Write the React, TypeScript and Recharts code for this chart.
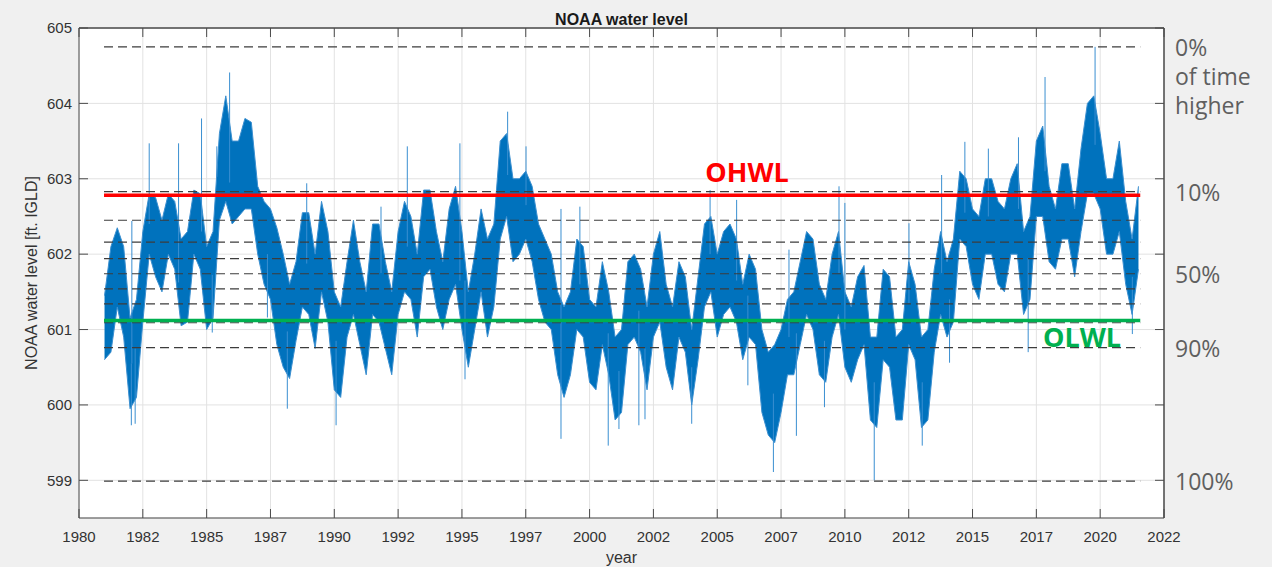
import {
    ComposedChart,
    Area,
    Line,
    XAxis,
    YAxis,
    CartesianGrid,
    ReferenceLine,
    ReferenceDot,
} from "recharts";

// quarter-year bins, first bin at 1981.00
const firstBin = 1981.0;
const binStep = 0.25;
const dataStart = 1980.98;
const dataEnd = 2021.57;

// lower envelope of the daily record per bin [ft IGLD]
const lows = [
    600.6, 600.7, 601.3, 600.9, // 1981
    599.95, 600.1, 601.1, 602.0, // 1982
    601.7, 601.5, 602.0, 601.8, // 1983
    601.05, 601.1, 602.0, 601.8, // 1984
    601.0, 601.15, 602.45, 602.7, // 1985
    602.4, 602.5, 602.6, 602.6, // 1986
    602.0, 601.6, 601.4, 600.8, // 1987
    600.5, 600.35, 600.85, 601.3, // 1988
    601.2, 600.75, 601.5, 601.1, // 1989
    600.2, 600.1, 600.9, 601.2, // 1990
    600.8, 600.4, 601.2, 601.1, // 1991
    600.75, 600.4, 601.2, 601.5, // 1992
    601.4, 600.9, 601.7, 601.8, // 1993
    601.3, 601.0, 601.4, 601.6, // 1994
    601.0, 600.5, 601.0, 601.5, // 1995
    600.9, 601.3, 602.2, 602.5, // 1996
    601.9, 602.0, 602.2, 601.9, // 1997
    601.4, 601.1, 601.0, 600.4, // 1998
    600.1, 600.4, 601.0, 600.9, // 1999
    600.3, 600.2, 600.8, 600.4, // 2000
    599.8, 599.9, 600.8, 600.9, // 2001
    600.7, 600.2, 600.9, 601.1, // 2002
    600.5, 600.2, 600.9, 600.7, // 2003
    600.0, 600.6, 601.3, 601.5, // 2004
    600.9, 601.2, 601.3, 601.1, // 2005
    600.6, 600.9, 600.8, 599.9, // 2006
    599.6, 599.5, 599.9, 600.4, // 2007
    600.4, 600.8, 601.2, 601.0, // 2008
    600.4, 600.3, 600.9, 601.2, // 2009
    600.5, 600.3, 600.6, 600.8, // 2010
    599.8, 599.7, 600.6, 600.5, // 2011
    599.8, 599.8, 600.8, 600.6, // 2012
    599.7, 599.8, 600.7, 601.2, // 2013
    600.9, 601.1, 602.2, 602.1, // 2014
    601.6, 601.4, 602.0, 602.0, // 2015
    601.6, 601.5, 602.0, 602.0, // 2016
    601.2, 601.4, 602.5, 602.5, // 2017
    601.9, 601.8, 602.2, 602.2, // 2018
    601.7, 602.3, 602.8, 602.8, // 2019
    602.6, 602.0, 602.0, 602.3, // 2020
    601.6, 601.2, 601.8, // 2021
];

// upper envelope per bin
const highs = [
    601.45, 602.1, 602.35, 602.1, // 1981
    601.15, 601.4, 602.3, 602.8, // 1982
    602.75, 602.45, 602.8, 602.7, // 1983
    602.2, 602.3, 602.85, 602.8, // 1984
    602.1, 602.3, 603.6, 604.1, // 1985
    603.5, 603.5, 603.8, 603.75, // 1986
    602.9, 602.7, 602.6, 602.35, // 1987
    602.0, 601.6, 601.9, 602.55, // 1988
    602.55, 602.0, 602.7, 602.3, // 1989
    601.5, 601.3, 601.9, 602.45, // 1990
    601.9, 601.5, 602.4, 602.4, // 1991
    601.9, 601.5, 602.3, 602.7, // 1992
    602.5, 602.0, 602.85, 602.85, // 1993
    602.3, 601.9, 602.6, 602.9, // 1994
    602.3, 601.5, 602.0, 602.6, // 1995
    602.2, 602.4, 603.5, 603.6, // 1996
    603.0, 603.0, 603.1, 602.9, // 1997
    602.4, 602.2, 602.0, 601.5, // 1998
    601.3, 601.5, 602.2, 602.1, // 1999
    601.4, 601.3, 601.9, 601.5, // 2000
    600.9, 601.0, 601.9, 602.0, // 2001
    601.8, 601.3, 602.0, 602.3, // 2002
    601.6, 601.3, 601.9, 601.7, // 2003
    601.0, 601.7, 602.4, 602.5, // 2004
    602.0, 602.3, 602.4, 602.2, // 2005
    601.6, 602.0, 601.8, 601.0, // 2006
    600.7, 600.8, 601.0, 601.4, // 2007
    601.5, 601.9, 602.3, 602.2, // 2008
    601.6, 601.4, 602.0, 602.3, // 2009
    601.5, 601.3, 601.7, 601.85, // 2010
    600.9, 600.9, 601.8, 601.7, // 2011
    600.9, 601.0, 601.9, 601.6, // 2012
    600.9, 601.0, 601.8, 602.3, // 2013
    601.9, 602.2, 603.1, 603.0, // 2014
    602.6, 602.5, 603.0, 603.0, // 2015
    602.7, 602.6, 603.0, 603.2, // 2016
    602.3, 602.5, 603.5, 603.7, // 2017
    602.9, 602.6, 603.2, 603.2, // 2018
    602.6, 603.4, 604.0, 604.1, // 2019
    603.6, 603.0, 603.0, 603.5, // 2020
    602.7, 602.2, 602.9, // 2021
];

// single-day extremes sticking out of the band: [year, level]
const spikes: [number, number][] = [
    [1982.07, 602.44], [1982.75, 603.47], [1983.9, 603.47], [1984.8, 603.8],
    [1985.4, 603.43], [1985.9, 604.41], [1988.92, 602.94], [1991.83, 602.63],
    [1992.86, 603.43], [1994.92, 603.47], [1996.79, 603.89], [1997.51, 603.43],
    [1998.88, 602.6], [1999.62, 602.63], [2004.72, 602.85], [2005.76, 602.72],
    [2007.81, 602.06], [2009.77, 602.9], [2010.0, 602.68], [2012.51, 602.41],
    [2013.79, 603.05], [2014.7, 603.49], [2015.62, 603.4], [2016.8, 603.55],
    [2017.84, 604.35], [2019.8, 604.75],
    [1982.05, 599.73], [1982.2, 599.75], [1985.22, 600.96], [1987.38, 601.16],
    [1988.16, 599.95], [1990.07, 599.73], [1995.12, 600.34], [1998.88, 599.55],
    [2000.73, 599.46], [2001.15, 599.68], [2001.93, 599.73], [2002.17, 599.81],
    [2004.0, 599.75], [2006.2, 600.26], [2007.2, 599.11], [2008.1, 599.59],
    [2009.2, 599.97], [2011.15, 599.0], [2013.03, 599.46], [2014.1, 600.56],
    [2017.18, 600.7], [2021.26, 600.94],
];

const xTicks = [
    1980, 1982.5, 1985, 1987.5, 1990, 1992.5, 1995, 1997.5, 2000,
    2002.5, 2005, 2007.5, 2010, 2012.5, 2015, 2017.5, 2020, 2022.5,
];
const yTicks = [599, 600, 601, 602, 603, 604, 605];

// 0%,10%,...,100% exceedance levels
const pctLevels = [604.75, 602.83, 602.45, 602.16, 601.94, 601.74, 601.54, 601.34, 601.09, 600.76, 598.99];
const pctShown = [0, 10, 50, 90, 100];

const ohwl = 602.78;
const olwl = 601.12;

const xDomain: [number, number] = [1980, 2022.5];
const yDomain: [number, number] = [598.5, 605];
const axisColor = "#4a4a4a";
const textColor = "#333333";

const band = lows.map((lo, i) => ({
    x: firstBin + i * binStep,
    range: [lo, highs[i]],
}));

const spikeData = spikes.flatMap(([yr, tip]) => {
    const i = Math.min(lows.length - 1, Math.max(0, Math.round((yr - firstBin) / binStep)));
    const base = (lows[i] + highs[i]) / 2;
    return [
        {x: yr, v: base},
        {x: yr, v: tip},
        {x: yr, v: null},
    ];
});

const EmptyTick = () => <g/>;

function PctTick(props: any) {
    const {x, y, payload} = props;
    const idx = pctLevels.indexOf(payload.value);
    const label = `${idx * 10}%`;
    const common = {
        fill: "#5f5f5f",
        fontSize: 23,
        fontFamily: "'Open Sans', sans-serif",
    };
    if (idx === 0) {
        return (
            <text x={x + 3} y={y} {...common} dominantBaseline="central">
                <tspan x={x + 3} dy={0}>{label}</tspan>
                <tspan x={x + 3} dy={29}>of time</tspan>
                <tspan x={x + 3} dy={29}>higher</tspan>
            </text>
        );
    }
    return (
        <text x={x + 3} y={y} {...common} dominantBaseline="central">{label}</text>
    );
}

export default function App() {
    const seg = (v: number) => [{x: dataStart, y: v}, {x: dataEnd, y: v}];

    return (
        <div style={{
            position: "absolute", left: 0, top: 0, width: 1272, height: 567,
            background: "#f0f0f0", fontFamily: "'Liberation Sans', Arial, sans-serif",
        }}>
            <ComposedChart
                width={1272}
                height={567}
                data={band}
                margin={{top: 28, right: 0, bottom: 0, left: 0}}
            >
                <CartesianGrid xAxisId="b" yAxisId="l" fill="#ffffff" stroke="#e2e2e2" strokeWidth={1}/>

                <XAxis xAxisId="b" dataKey="x" type="number" domain={xDomain} allowDataOverflow
                       ticks={xTicks} interval={0} height={49}
                       tickFormatter={(v: number) => String(Math.floor(v))}
                       tickLine={false} tickSize={6} tickMargin={7}
                       axisLine={{stroke: axisColor}}
                       tick={{fill: textColor, fontSize: 15}}/>
                <XAxis xAxisId="bi" dataKey="x" type="number" domain={xDomain} allowDataOverflow
                       ticks={xTicks} interval={0} mirror tick={EmptyTick} tickSize={9}
                       axisLine={false} tickLine={{stroke: axisColor}}/>
                <XAxis xAxisId="t" orientation="top" dataKey="x" type="number" domain={xDomain} allowDataOverflow
                       ticks={xTicks} interval={0} mirror tick={EmptyTick} tickSize={9}
                       axisLine={{stroke: axisColor}} tickLine={{stroke: axisColor}}/>

                <YAxis yAxisId="l" type="number" domain={yDomain} allowDataOverflow
                       ticks={yTicks} interval={0} width={79}
                       tickLine={false} tickSize={6} tickMargin={1}
                       axisLine={{stroke: axisColor}}
                       tick={{fill: textColor, fontSize: 15}}/>
                <YAxis yAxisId="li" type="number" domain={yDomain} allowDataOverflow
                       ticks={yTicks} interval={0} mirror tick={EmptyTick} tickSize={9}
                       axisLine={false} tickLine={{stroke: axisColor}}/>
                <YAxis yAxisId="r" orientation="right" type="number" domain={yDomain} allowDataOverflow
                       ticks={yTicks} interval={0} mirror tick={EmptyTick} tickSize={9}
                       axisLine={{stroke: axisColor}} tickLine={{stroke: axisColor}}/>
                <YAxis yAxisId="pct" orientation="right" type="number" domain={yDomain} allowDataOverflow
                       ticks={pctShown.map((p) => pctLevels[p / 10])} interval={0} width={108}
                       tickLine={false} axisLine={false} tickSize={6} tickMargin={2}
                       tick={<PctTick/>}/>

                {/* daily water level: envelope band plus single-day extremes */}
                <Area xAxisId="b" yAxisId="l" type="linear" dataKey="range"
                      fill="#0072bd" fillOpacity={1} stroke="#3b8fd0" strokeWidth={1}
                      isAnimationActive={false}/>
                <Line xAxisId="b" yAxisId="l" data={spikeData} dataKey="v" type="linear"
                      stroke="#3a8fd1" strokeWidth={1} dot={false} connectNulls={false}
                      isAnimationActive={false}/>

                {pctLevels.map((v, i) => (
                    <ReferenceLine key={i} xAxisId="b" yAxisId="l" segment={seg(v)}
                                   stroke="#3c3c3c" strokeWidth={1.2} strokeDasharray="9 5"/>
                ))}
                <ReferenceLine xAxisId="b" yAxisId="l" segment={seg(ohwl)} stroke="#ff0000" strokeWidth={3.5}/>
                <ReferenceLine xAxisId="b" yAxisId="l" segment={seg(olwl)} stroke="#00b050" strokeWidth={3.5}/>

                {/* box edges */}
                <ReferenceLine xAxisId="b" yAxisId="l" y={yDomain[1]} stroke={axisColor} strokeWidth={1}/>
                <ReferenceLine xAxisId="b" yAxisId="l" x={xDomain[1]} stroke={axisColor} strokeWidth={1}/>

                <ReferenceDot xAxisId="b" yAxisId="l" x={2006.17} y={603.08} r={1}
                              fill="none" stroke="none"
                              label={{
                                  value: "OHWL", position: "center", fill: "#ff0000",
                                  fontSize: 27, fontWeight: 700, fontFamily: "'Open Sans', sans-serif",
                              }}/>
                <ReferenceDot xAxisId="b" yAxisId="l" x={2019.29} y={600.89} r={1}
                              fill="none" stroke="none"
                              label={{
                                  value: "OLWL", position: "center", fill: "#00b050",
                                  fontSize: 27, fontWeight: 700, fontFamily: "'Open Sans', sans-serif",
                              }}/>
            </ComposedChart>

            <svg width={1272} height={567}
                 style={{position: "absolute", left: 0, top: 0, pointerEvents: "none"}}>
                <text x={621.5} y={19} textAnchor="middle" dominantBaseline="central"
                      fontSize={16} fontWeight="bold" fill="#1a1a1a">NOAA water level</text>
                <text transform="translate(31.5,273) rotate(-90)" textAnchor="middle"
                      dominantBaseline="central" fontSize={16} fill={textColor}>
                    NOAA water level [ft. IGLD]
                </text>
                <text x={621.5} y={557} textAnchor="middle" dominantBaseline="central"
                      fontSize={16} fill={textColor}>year</text>
            </svg>
        </div>
    );
}
